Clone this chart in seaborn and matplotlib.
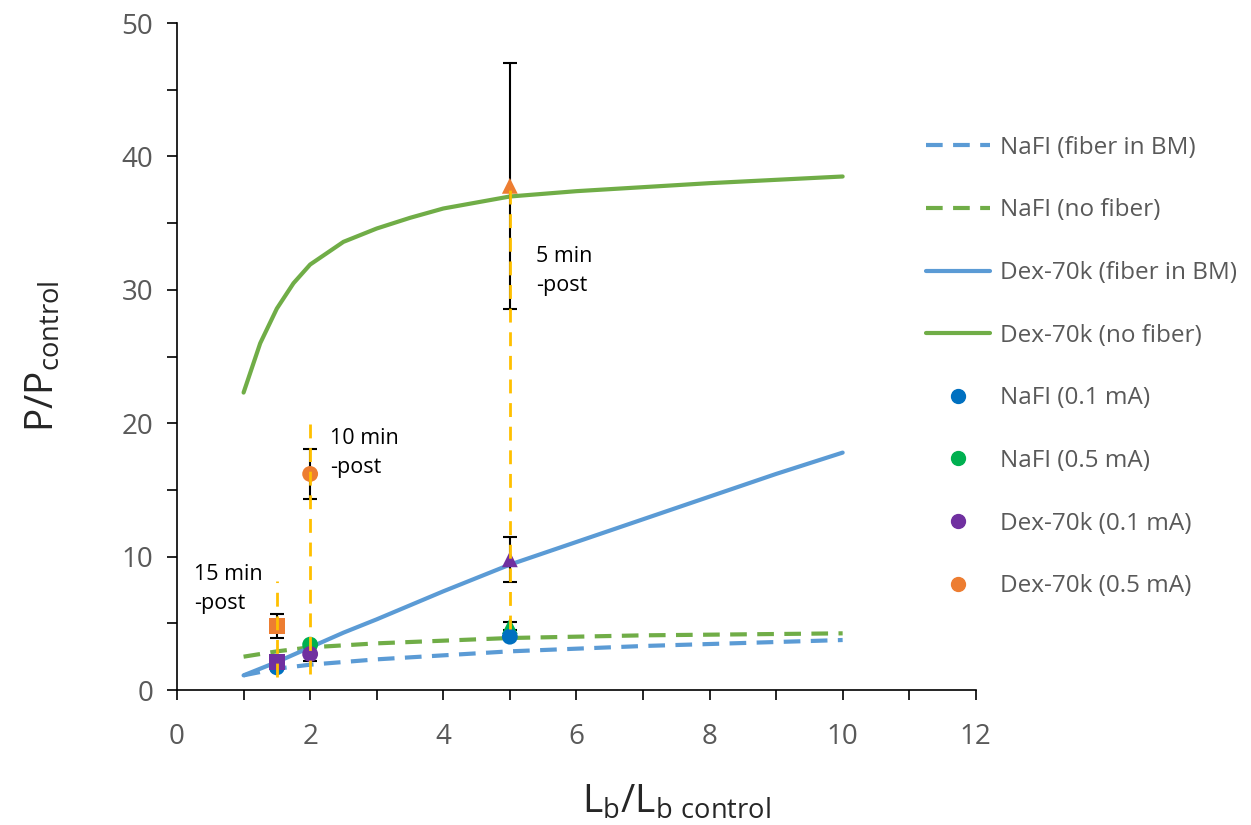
import matplotlib
matplotlib.use("Agg")
import matplotlib.pyplot as plt
import seaborn as sns
import pandas as pd
from matplotlib.lines import Line2D

sns.set_style("white")
plt.rcParams['font.family'] = ['Open Sans', 'DejaVu Sans']
plt.rcParams['mathtext.default'] = 'regular'

# ---- data ----
curve_x = [1, 1.25, 1.5, 1.75, 2, 2.5, 3, 3.5, 4, 5, 6, 7, 8, 9, 10]
nafl_fiber = [1.1, 1.35, 1.6, 1.75, 1.9, 2.1, 2.3, 2.45, 2.6, 2.9, 3.1, 3.3, 3.45, 3.6, 3.75]
nafl_nofiber = [2.5, 2.7, 2.9, 3.05, 3.2, 3.35, 3.5, 3.6, 3.7, 3.9, 4.0, 4.1, 4.15, 4.2, 4.25]
dex_fiber = [1.1, 1.6, 2.1, 2.65, 3.2, 4.3, 5.3, 6.35, 7.4, 9.4, 11.1, 12.8, 14.5, 16.2, 17.8]
dex_nofiber = [22.3, 26.0, 28.6, 30.5, 31.9, 33.6, 34.6, 35.4, 36.1, 37.0, 37.4, 37.7, 38.0, 38.25, 38.5]

nafl01_x = [1.5, 5]
nafl01_y = [1.7, 4.0]
nafl01_m = ["o", "o"]
nafl05_x = [2, 5]
nafl05_y = [3.4, 4.8]
nafl05_err = [0.0, 0.3]
nafl05_m = ["o", "^"]
dex01_x = [1.5, 2, 5]
dex01_y = [2.1, 2.7, 9.8]
dex01_err = [0.0, 0.5, 1.7]
dex01_m = ["s", "o", "^"]
dex05_x = [1.5, 2, 5]
dex05_y = [4.8, 16.2, 37.8]
dex05_err = [0.9, 1.9, 9.2]
dex05_m = ["s", "o", "^"]

range_x = [1.5, 2, 5]
range_lo = [1.0, 1.2, 4.6]
range_hi = [8.2, 20.3, 37.8]

ann_text = ["15 min\n-post", "10 min\n-post", "5 min\n-post"]
ann_x = [0.25, 2.3, 5.4]
ann_y = [7.6, 17.8, 31.4]

legend_labels = ["NaFI (fiber in BM)", "NaFI (no fiber)", "Dex-70k (fiber in BM)",
                 "Dex-70k (no fiber)", "NaFI (0.1 mA)", "NaFI (0.5 mA)",
                 "Dex-70k (0.1 mA)", "Dex-70k (0.5 mA)"]

# ---- style ----
c_bline = "#5B9BD5"
c_gline = "#70AD47"
c_blue = "#0070C0"
c_green = "#00B050"
c_purple = "#7030A0"
c_orange = "#ED7D31"
c_yellow = "#FFC000"
lw = 3.0

fig = plt.figure(figsize=(12.51, 8.25), dpi=100)
ax = fig.add_axes([0.1415, 0.1636, 0.6385, 0.8084])

curves = pd.DataFrame({"x": curve_x, "nf": nafl_fiber, "nn": nafl_nofiber,
                       "df": dex_fiber, "dn": dex_nofiber})
sns.lineplot(data=curves, x="x", y="nf", ax=ax, color=c_bline, lw=lw)
ax.lines[-1].set_dashes((4, 2.5))
sns.lineplot(data=curves, x="x", y="nn", ax=ax, color=c_gline, lw=lw)
ax.lines[-1].set_dashes((4, 2.5))
sns.lineplot(data=curves, x="x", y="df", ax=ax, color=c_bline, lw=lw)
sns.lineplot(data=curves, x="x", y="dn", ax=ax, color=c_gline, lw=lw)

# error bars (black)
for xs, ys, es in [(nafl05_x, nafl05_y, nafl05_err), (dex01_x, dex01_y, dex01_err),
                   (dex05_x, dex05_y, dex05_err)]:
    ax.errorbar(xs, ys, yerr=es, fmt="none", ecolor="black",
                elinewidth=1.5, capsize=5, capthick=1.5, zorder=3)

# yellow dashed ranges
ax.vlines(range_x, range_lo, range_hi, colors=c_yellow, linestyles=(0, (5, 3.5)),
          lw=2, zorder=5)


def pts(xs, ys, ms, color):
    df = pd.DataFrame({"x": xs, "y": ys, "m": ms})
    for m, sub in df.groupby("m", sort=False):
        sns.scatterplot(data=sub, x="x", y="y", marker=m, ax=ax, color=color,
                        s=130, edgecolor="none", legend=False, zorder=4)


pts(nafl05_x, nafl05_y, nafl05_m, c_green)
pts(nafl01_x, nafl01_y, nafl01_m, c_blue)
pts(dex01_x, dex01_y, dex01_m, c_purple)
pts(dex05_x, dex05_y, dex05_m, c_orange)

for t, x, y in zip(ann_text, ann_x, ann_y):
    ax.text(x, y, t, fontsize=15.5, va="center", ha="left", color="black",
            linespacing=1.5)

ax.set_xlim(0, 12)
ax.set_ylim(0, 50)
ax.set_xticks(range(0, 13, 2))
ax.set_xticks(range(0, 13, 1), minor=True)
ax.set_yticks(range(0, 51, 10))
ax.set_yticks(range(0, 51, 5), minor=True)
ax.tick_params(axis="both", which="both", direction="out", length=7, width=1.2,
               color="black", bottom=True, left=True)
ax.tick_params(axis="both", which="major", labelsize=20, labelcolor="#595959")
ax.tick_params(axis="x", which="major", pad=17)
ax.tick_params(axis="y", which="major", pad=10)
for s in ["top", "right"]:
    ax.spines[s].set_visible(False)
for s in ["left", "bottom"]:
    ax.spines[s].set_color("black")
    ax.spines[s].set_linewidth(1.2)

ax.set_xlabel(r"$L_b/L_{b\ control}$", fontsize=28)
ax.xaxis.set_label_coords(0.625, -0.14)
ax.set_ylabel(r"$P/P_{control}$", fontsize=28)
ax.yaxis.set_label_coords(-0.143, 0.5)

handles = [
    Line2D([], [], color=c_bline, lw=lw, dashes=(4, 2.5)),
    Line2D([], [], color=c_gline, lw=lw, dashes=(4, 2.5)),
    Line2D([], [], color=c_bline, lw=lw),
    Line2D([], [], color=c_gline, lw=lw),
    Line2D([], [], color=c_blue, marker="o", ls="none", ms=10),
    Line2D([], [], color=c_green, marker="o", ls="none", ms=10),
    Line2D([], [], color=c_purple, marker="o", ls="none", ms=10),
    Line2D([], [], color=c_orange, marker="o", ls="none", ms=10),
]
leg = fig.legend(handles, legend_labels, loc="upper left",
                 bbox_to_anchor=(0.723, 0.862), frameon=False, fontsize=17.5,
                 handlelength=2.6, handletextpad=0.45, labelspacing=1.59,
                 numpoints=1)
for t in leg.get_texts():
    t.set_color("#595959")

fig.savefig("out.png", dpi=100)
